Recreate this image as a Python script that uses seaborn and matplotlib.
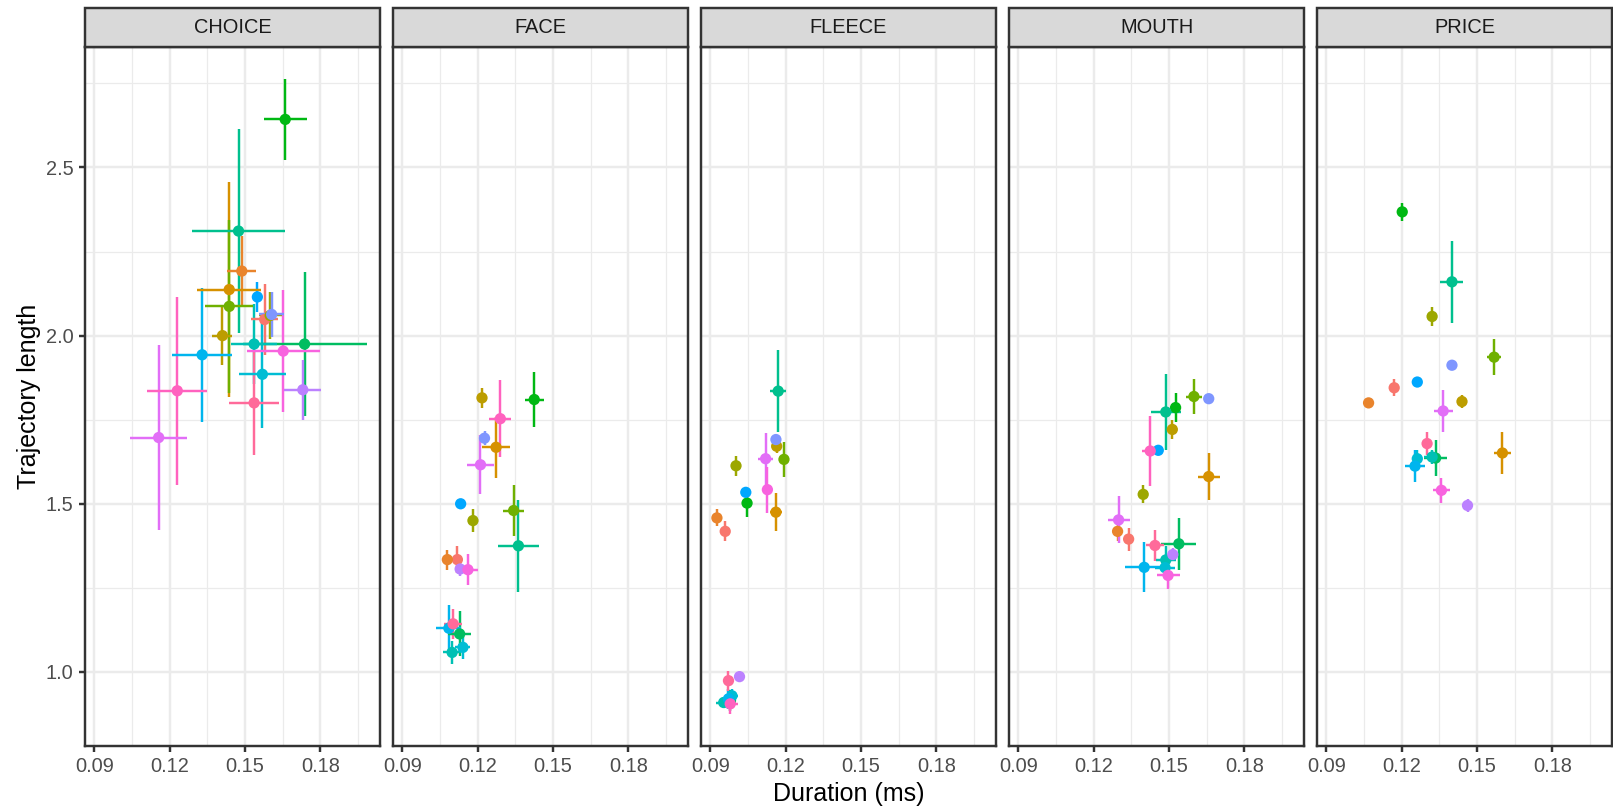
import numpy as np
import pandas as pd
import matplotlib
matplotlib.use("Agg")
import matplotlib.pyplot as plt
from matplotlib.patches import Rectangle
import seaborn as sns

# ---------------------------------------------------------------------------
# Data: per-speaker mean duration / trajectory length (with SE) for each vowel
# ---------------------------------------------------------------------------
WORDS = ["CHOICE", "FACE", "FLEECE", "MOUTH", "PRICE"]
SPEAKERS = [f"S{i:02d}" for i in range(1, 20)]
NA = np.nan

CHOICE_DUR = [0.1578, 0.1487, 0.1437, 0.1410, 0.1600, 0.1437, 0.1660, 0.1737, 0.1474, 0.1536,
              0.1569, 0.1329, 0.1549, 0.1606, 0.1730, 0.1156, 0.1652, 0.1230, 0.1536]
CHOICE_DUR_SE = [0.0053, 0.0057, 0.0127, 0.0040, 0.0046, 0.0096, 0.0086, 0.0247, 0.0184, 0.0090,
                 0.0095, 0.0120, 0.0020, 0.0050, 0.0074, 0.0114, 0.0145, 0.0119, 0.0100]
CHOICE_LEN = [2.048, 2.192, 2.137, 2.000, 2.060, 2.087, 2.643, 1.975, 2.311, 1.975,
              1.885, 1.943, 2.115, 2.063, 1.839, 1.697, 1.954, 1.836, 1.800]
CHOICE_LEN_SE = [0.105, 0.104, 0.320, 0.087, 0.070, 0.258, 0.120, 0.214, 0.304, 0.120,
                 0.160, 0.200, 0.045, 0.067, 0.089, 0.275, 0.182, 0.280, 0.155]

FACE_DUR = [0.1119, 0.1079, 0.1273, 0.1217, 0.1181, 0.1343, 0.1425, 0.1128, 0.1362, 0.1098,
            0.1141, 0.1085, 0.1132, 0.1227, 0.1130, 0.1211, 0.1161, 0.1290, 0.1102]
FACE_DUR_SE = [0.0010, 0.0010, 0.0056, 0.0010, 0.0010, 0.0042, 0.0037, 0.0046, 0.0081, 0.0036,
               0.0030, 0.0050, 0.0000, 0.0010, 0.0010, 0.0053, 0.0040, 0.0044, 0.0036]
FACE_LEN = [1.334, 1.334, 1.668, 1.815, 1.450, 1.480, 1.810, 1.113, 1.375, 1.058,
            1.073, 1.130, 1.500, 1.695, 1.306, 1.616, 1.304, 1.753, 1.143]
FACE_LEN_SE = [0.040, 0.030, 0.090, 0.030, 0.033, 0.076, 0.083, 0.067, 0.137, 0.035,
               0.035, 0.070, 0.000, 0.020, 0.020, 0.088, 0.046, 0.114, 0.045]

FLEECE_DUR = [0.0959, 0.0926, 0.1161, 0.1164, 0.1002, 0.1193, 0.1046, 0.0980, 0.1170, 0.0953,
              0.0986, 0.0972, 0.1041, 0.1161, 0.1016, 0.1120, 0.1127, 0.0979, 0.0972]
FLEECE_DUR_SE = [0.0010, 0.0010, 0.0023, 0.0010, 0.0010, 0.0010, 0.0010, 0.0010, 0.0033, 0.0030,
                 0.0025, 0.0030, 0.0000, 0.0000, 0.0000, 0.0030, 0.0020, 0.0030, 0.0010]
FLEECE_LEN = [1.418, 1.458, 1.475, 1.671, 1.613, 1.632, 1.502, 0.915, 1.835, 0.909,
              0.929, 0.920, 1.534, 1.691, 0.986, 1.634, 1.542, 0.905, 0.974]
FLEECE_LEN_SE = [0.030, 0.025, 0.057, 0.020, 0.030, 0.053, 0.040, 0.030, 0.122, 0.015,
                 0.020, 0.030, 0.000, 0.010, 0.000, 0.077, 0.068, 0.030, 0.030]

MOUTH_DUR = [0.1339, 0.1295, 0.1658, 0.1513, 0.1397, 0.1599, 0.1526, 0.1539, 0.1487, 0.1487,
             0.1484, 0.1401, 0.1457, 0.1658, 0.1515, 0.1299, 0.1496, 0.1425, 0.1444]
MOUTH_DUR_SE = [0.0010, 0.0010, 0.0043, 0.0010, 0.0010, 0.0032, 0.0010, 0.0070, 0.0060, 0.0040,
                0.0040, 0.0075, 0.0000, 0.0000, 0.0010, 0.0044, 0.0046, 0.0033, 0.0036]
MOUTH_LEN = [1.395, 1.418, 1.581, 1.721, 1.528, 1.819, 1.786, 1.381, 1.773, 1.333,
             1.310, 1.311, 1.659, 1.8125, 1.349, 1.452, 1.287, 1.657, 1.376]
MOUTH_LEN_SE = [0.034, 0.030, 0.070, 0.027, 0.027, 0.053, 0.043, 0.077, 0.113, 0.040,
                0.030, 0.074, 0.000, 0.005, 0.020, 0.070, 0.040, 0.104, 0.047]

PRICE_DUR = [0.1170, 0.1068, 0.1601, 0.1440, 0.1321, 0.1568, 0.1202, 0.1335, 0.1400, 0.1321,
             0.1262, 0.1253, 0.1262, 0.1400, 0.1462, 0.1365, 0.1358, NA, 0.1301]
PRICE_DUR_SE = [0.0010, 0.0000, 0.0035, 0.0010, 0.0010, 0.0028, 0.0010, 0.0047, 0.0046, 0.0033,
                0.0010, 0.0040, 0.0000, 0.0000, 0.0010, 0.0038, 0.0033, NA, 0.0020]
PRICE_LEN = [1.845, 1.800, 1.651, 1.804, 2.057, 1.936, 2.368, 1.636, 2.160, 1.639,
             1.634, 1.612, 1.862, 1.912, 1.495, 1.776, 1.540, NA, 1.679]
PRICE_LEN_SE = [0.025, 0.005, 0.061, 0.020, 0.027, 0.053, 0.027, 0.053, 0.122, 0.020,
                0.025, 0.048, 0.000, 0.005, 0.020, 0.063, 0.038, NA, 0.035]

X_TICKS = [0.09, 0.12, 0.15, 0.18]
X_TICK_LABELS = ["0.09", "0.12", "0.15", "0.18"]
Y_TICKS = [1.0, 1.5, 2.0, 2.5]
Y_TICK_LABELS = ["1.0", "1.5", "2.0", "2.5"]

TABLE = {
    "CHOICE": (CHOICE_DUR, CHOICE_DUR_SE, CHOICE_LEN, CHOICE_LEN_SE),
    "FACE": (FACE_DUR, FACE_DUR_SE, FACE_LEN, FACE_LEN_SE),
    "FLEECE": (FLEECE_DUR, FLEECE_DUR_SE, FLEECE_LEN, FLEECE_LEN_SE),
    "MOUTH": (MOUTH_DUR, MOUTH_DUR_SE, MOUTH_LEN, MOUTH_LEN_SE),
    "PRICE": (PRICE_DUR, PRICE_DUR_SE, PRICE_LEN, PRICE_LEN_SE),
}

frames = []
for w in WORDS:
    d, dse, ln, lse = TABLE[w]
    frames.append(pd.DataFrame({"word": w, "speaker": SPEAKERS, "dur": d, "dur_se": dse,
                                "len": ln, "len_se": lse}))
df = pd.concat(frames, ignore_index=True).dropna(subset=["dur", "len"])


# ---------------------------------------------------------------------------
# Evenly spaced HCL hues (L=65, C=100), the usual discrete colour wheel
# ---------------------------------------------------------------------------
def hcl_to_rgb(h, c, l):
    hr = np.deg2rad(h)
    u, v = c * np.cos(hr), c * np.sin(hr)
    Xn, Yn, Zn = 0.95047, 1.0, 1.08883
    den = Xn + 15 * Yn + 3 * Zn
    un, vn = 4 * Xn / den, 9 * Yn / den
    Y = Yn * ((l + 16) / 116) ** 3
    up, vp = u / (13 * l) + un, v / (13 * l) + vn
    X = 9 * Y * up / (4 * vp)
    Z = Y * (12 - 3 * up - 20 * vp) / (4 * vp)
    M = np.array([[3.2404542, -1.5371385, -0.4985314],
                  [-0.9692660, 1.8760108, 0.0415560],
                  [0.0556434, -0.2040259, 1.0572252]])
    lin = np.clip(M @ np.array([X, Y, Z]), 0, 1)
    rgb = np.where(lin <= 0.0031308, 12.92 * lin, 1.055 * lin ** (1 / 2.4) - 0.055)
    return tuple(np.clip(rgb, 0, 1))


n = len(SPEAKERS)
hues = np.linspace(15, 375, n + 1)[:-1] % 360
palette = {s: hcl_to_rgb(h, 100, 65) for s, h in zip(SPEAKERS, hues)}

# shared limits with 5% padding
x_lo = np.nanmin(np.r_[df.dur - df.dur_se.fillna(0), df.dur])
x_hi = np.nanmax(np.r_[df.dur + df.dur_se.fillna(0), df.dur])
y_lo = np.nanmin(np.r_[df.len - df.len_se.fillna(0), df.len])
y_hi = np.nanmax(np.r_[df.len + df.len_se.fillna(0), df.len])
xpad, ypad = 0.05 * (x_hi - x_lo), 0.05 * (y_hi - y_lo)
XLIM = (x_lo - xpad, x_hi + xpad)
YLIM = (y_lo - ypad, y_hi + ypad)

# ---------------------------------------------------------------------------
# Figure
# ---------------------------------------------------------------------------
sns.set_theme(style="white")
plt.rcParams["font.family"] = ["Liberation Sans", "DejaVu Sans"]

FW, FH = 1613, 809
fig = plt.figure(figsize=(FW / 100, FH / 100), dpi=100)

SCALE = 1.64
LEFT, PW, GAP = 85, 295, 13
TOP, BOT = 47.3, 745.7
STRIP_H = 39.0
LW = 1.07 * SCALE
GREY20 = "#333333"
TICK_FS = 8.8 * SCALE
TITLE_FS = 11 * SCALE

for k, word in enumerate(WORDS):
    ax = fig.add_axes([(LEFT + k * (PW + GAP)) / FW, (FH - BOT) / FH, PW / FW, (BOT - TOP) / FH])
    ax.set_facecolor("white")
    sub = df[df.word == word]
    cols = [palette[s] for s in sub.speaker]

    ax.vlines(sub.dur, sub.len - sub.len_se, sub.len + sub.len_se, colors=cols,
              linewidth=LW, zorder=2, capstyle="butt")
    ax.hlines(sub.len, sub.dur - sub.dur_se, sub.dur + sub.dur_se, colors=cols,
              linewidth=LW, zorder=2, capstyle="butt")
    sns.scatterplot(data=sub, x="dur", y="len", hue="speaker", hue_order=SPEAKERS,
                    palette=palette, s=66, linewidth=0, legend=False, ax=ax, zorder=3)

    ax.set_xlim(XLIM)
    ax.set_ylim(YLIM)
    ax.set_xticks(X_TICKS)
    ax.set_xticklabels(X_TICK_LABELS)
    ax.set_xticks([t + 0.015 for t in X_TICKS], minor=True)
    ax.set_yticks(Y_TICKS)
    ax.set_yticks([t + 0.25 for t in Y_TICKS], minor=True)
    ax.grid(True, which="major", color="#EBEBEB", linewidth=LW, zorder=0)
    ax.grid(True, which="minor", color="#EBEBEB", linewidth=LW / 2, zorder=0)
    ax.set_axisbelow(True)
    ax.set_xlabel("")
    ax.set_ylabel("")

    for sp in ax.spines.values():
        sp.set_color(GREY20)
        sp.set_linewidth(LW)
        sp.set_zorder(5)

    ax.tick_params(axis="both", which="major", direction="out", length=2.75 * SCALE, width=LW,
                   color=GREY20, labelsize=TICK_FS, labelcolor="#4D4D4D", pad=2.2 * SCALE)
    ax.tick_params(axis="both", which="minor", length=0)
    ax.tick_params(axis="x", bottom=True)
    if k == 0:
        ax.set_yticklabels(Y_TICK_LABELS)
        ax.tick_params(axis="y", left=True)
    else:
        ax.tick_params(axis="y", left=False, labelleft=False)

    sh = STRIP_H / (BOT - TOP)
    ax.add_patch(Rectangle((0, 1), 1, sh, transform=ax.transAxes, clip_on=False,
                           facecolor="#D9D9D9", edgecolor=GREY20, linewidth=LW, zorder=6))
    ax.text(0.5, 1 + sh / 2, word, transform=ax.transAxes, ha="center", va="center",
            fontsize=TICK_FS, color="#1A1A1A", zorder=7)

fig.text((LEFT + (LEFT + 4 * (PW + GAP) + PW)) / 2 / FW, 1 - 794 / FH, "Duration (ms)",
         ha="center", va="center", fontsize=TITLE_FS, color="black")
fig.text(29 / FW, 1 - ((TOP + BOT) / 2) / FH, "Trajectory length", rotation=90,
         ha="center", va="center", fontsize=TITLE_FS, color="black")

fig.savefig("out.png", dpi=100, facecolor="white")
